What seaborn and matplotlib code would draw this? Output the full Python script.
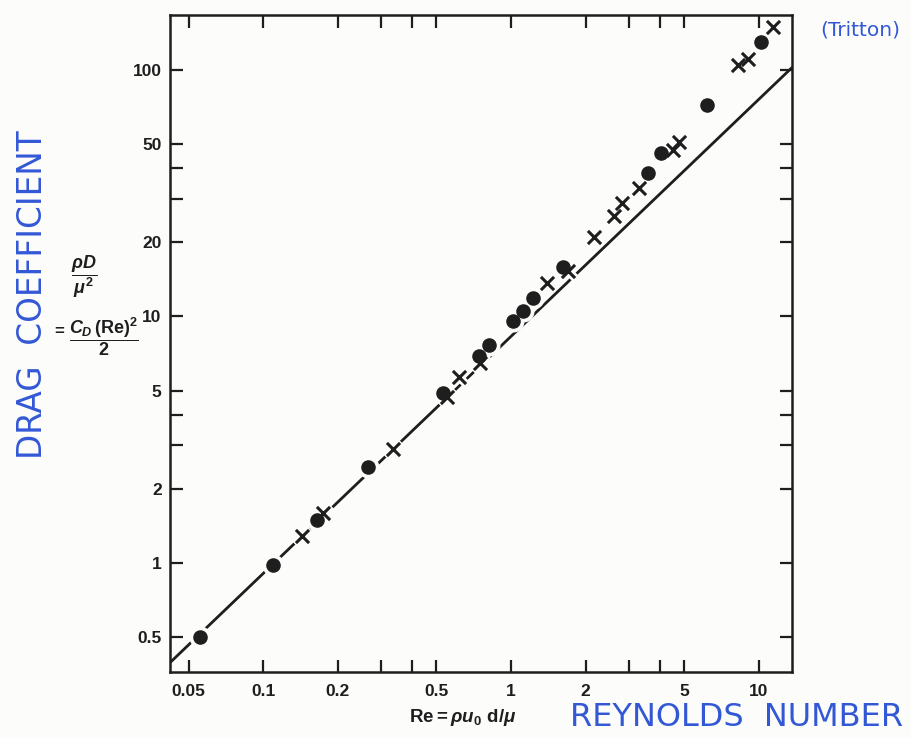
import matplotlib
matplotlib.use("Agg")
import matplotlib.pyplot as plt
from matplotlib.ticker import FixedLocator, FixedFormatter, NullFormatter
import pandas as pd
import seaborn as sns

# ---- values ----
dot_re = [0.0555, 0.109, 0.165, 0.265, 0.532, 0.743, 0.815, 1.02, 1.12, 1.23,
          1.62, 3.57, 4.03, 6.18, 10.2]
dot_drag = [0.50, 0.98, 1.49, 2.45, 4.9, 6.9, 7.65, 9.6, 10.5, 11.9,
            15.9, 38.2, 46.0, 72.0, 130.0]

cross_re = [0.143, 0.174, 0.334, 0.552, 0.617, 0.750, 1.40, 1.70, 2.16, 2.61,
            2.81, 3.29, 4.51, 4.77, 8.25, 9.05, 11.4]
cross_drag = [1.29, 1.60, 2.9, 4.7, 5.7, 6.5, 13.7, 15.3, 21.0, 25.6,
              28.9, 33.2, 47.4, 51.0, 105.0, 111.0, 149.0]

# straight reference line (low-Re limit)
line_re = [0.042, 13.6]
line_drag = [0.394, 102.0]

x_major = [0.05, 0.1, 0.2, 0.5, 1, 2, 5, 10]
x_labels = ["0.05", "0.1", "0.2", "0.5", "1", "2", "5", "10"]
x_minor = [0.3, 0.4, 3, 4]
y_major = [0.5, 1, 2, 5, 10, 20, 50, 100]
y_labels = ["0.5", "1", "2", "5", "10", "20", "50", "100"]
y_minor = [3, 4, 30, 40]

df_dot = pd.DataFrame({"Re": dot_re, "drag": dot_drag})
df_cross = pd.DataFrame({"Re": cross_re, "drag": cross_drag})
df_line = pd.DataFrame({"Re": line_re, "drag": line_drag})

# ---- style ----
sns.set_theme(style="ticks")
plt.rcParams["font.family"] = ["Liberation Sans", "DejaVu Sans"]
plt.rcParams["mathtext.fontset"] = "custom"
plt.rcParams["mathtext.rm"] = "Liberation Sans:bold"
plt.rcParams["mathtext.bf"] = "Liberation Sans:bold"
plt.rcParams["mathtext.sf"] = "Liberation Sans:bold"
plt.rcParams["mathtext.it"] = "Liberation Sans:italic:bold"

ink = "#1e1e1e"
blue = "#3358d6"
paper = "#fcfcfb"

fig = plt.figure(figsize=(9.12, 7.38), dpi=100, facecolor=paper)
ax = fig.add_axes([170 / 912, 1 - 672 / 738, 622 / 912, 657 / 738])
ax.set_facecolor(paper)

sns.lineplot(data=df_line, x="Re", y="drag", color=ink, lw=2.0, ax=ax, zorder=2)

# white halos so the line breaks around the markers
sns.scatterplot(data=df_dot, x="Re", y="drag", color=paper, s=250,
                linewidth=0, ax=ax, zorder=3)
sns.scatterplot(data=df_cross, x="Re", y="drag", color=paper, marker="x",
                s=120, linewidth=6, ax=ax, zorder=3)

sns.scatterplot(data=df_dot, x="Re", y="drag", color=ink, s=110,
                linewidth=0, ax=ax, zorder=4)
sns.scatterplot(data=df_cross, x="Re", y="drag", color=ink, marker="x",
                s=90, linewidth=2.2, ax=ax, zorder=4)

ax.set_xscale("log")
ax.set_yscale("log")
ax.set_xlim(0.0420, 13.63)
ax.set_ylim(0.361, 167)

ax.xaxis.set_major_locator(FixedLocator(x_major))
ax.xaxis.set_major_formatter(FixedFormatter(x_labels))
ax.xaxis.set_minor_locator(FixedLocator(x_minor))
ax.xaxis.set_minor_formatter(NullFormatter())
ax.yaxis.set_major_locator(FixedLocator(y_major))
ax.yaxis.set_major_formatter(FixedFormatter(y_labels))
ax.yaxis.set_minor_locator(FixedLocator(y_minor))
ax.yaxis.set_minor_formatter(NullFormatter())

ax.tick_params(which="both", direction="in", top=True, right=True,
               length=9, width=1.6, color=ink)
ax.tick_params(axis="x", which="major", pad=9, labelsize=12.5, labelcolor=ink)
ax.tick_params(axis="y", which="major", pad=6, labelsize=12.5, labelcolor=ink)
for lab in ax.get_xticklabels() + ax.get_yticklabels():
    lab.set_fontweight("bold")

for sp in ax.spines.values():
    sp.set_visible(True)
    sp.set_linewidth(1.8)
    sp.set_color(ink)

ax.set_xlabel("")
ax.set_ylabel("")

# printed axis labels
fig.text(463 / 912, 1 - 717 / 738, r"$\mathrm{Re} = \rho u_{\mathrm{0}}\ \mathrm{d}/\mu$",
         ha="center", va="center", fontsize=13.5, color=ink)
fig.text(84 / 912, 1 - 277 / 738, r"$\dfrac{\rho D}{\mu^{2}}$",
         ha="center", va="center", fontsize=13, color=ink)
fig.text(59 / 912, 1 - 331 / 738, "=", ha="center", va="center",
         fontsize=12, fontweight="bold", color=ink)
fig.text(104 / 912, 1 - 337 / 738, r"$\dfrac{C_{D}\,(\mathrm{Re})^{2}}{\mathrm{2}}$",
         ha="center", va="center", fontsize=13, color=ink)

# handwritten notes
fig.text(33 / 912, 1 - 295 / 738, "DRAG  COEFFICIENT", rotation=90,
         ha="center", va="center", fontsize=23.5, color=blue,
         family=["DejaVu Sans"])
fig.text(570 / 912, 1 - 718 / 738, "REYNOLDS  NUMBER", ha="left", va="center",
         fontsize=23, color=blue, family=["DejaVu Sans"])
fig.text(860 / 912, 1 - 30 / 738, "(Tritton)", ha="center", va="center",
         fontsize=14.5, color=blue, family=["DejaVu Sans"])

fig.savefig("out.png", dpi=100, facecolor=fig.get_facecolor())
